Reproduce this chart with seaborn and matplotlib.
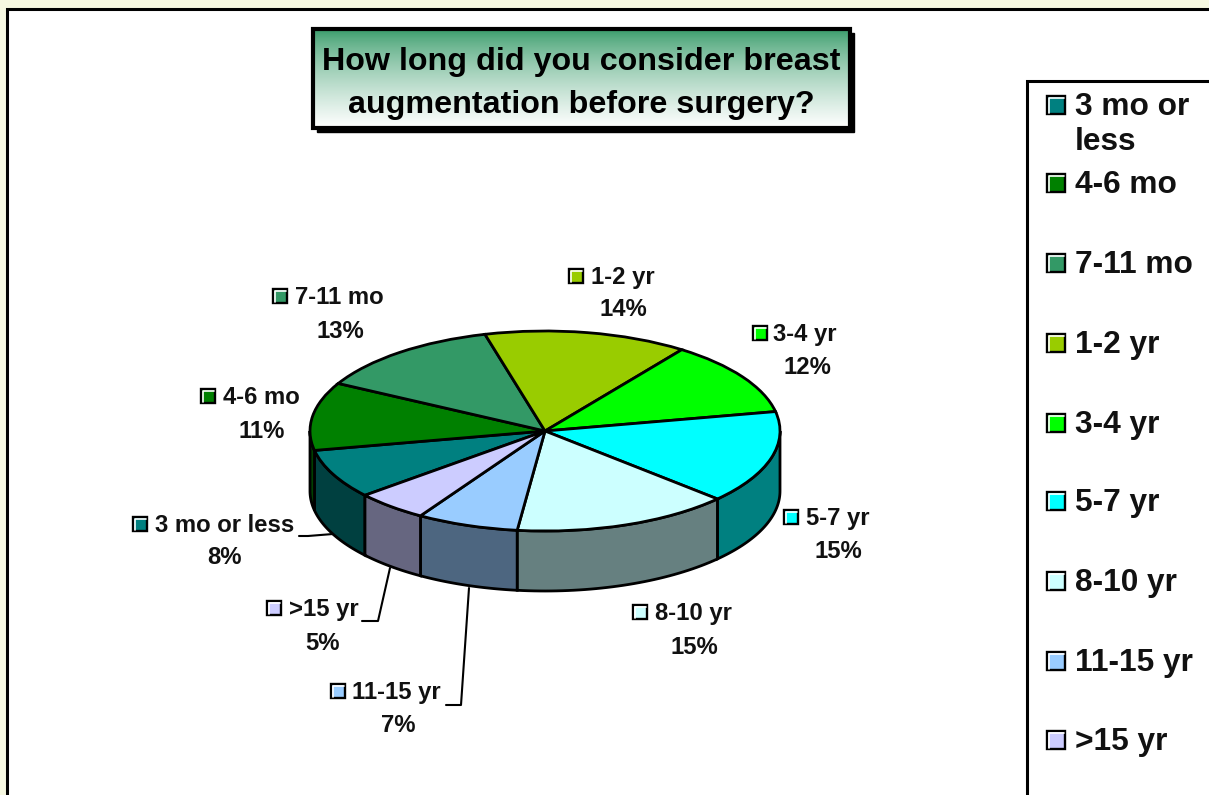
import numpy as np
import matplotlib
matplotlib.use("Agg")
import matplotlib.pyplot as plt
from matplotlib.patches import Rectangle
import seaborn as sns

# Data
categories = ["3 mo or less", "4-6 mo", "7-11 mo", "1-2 yr", "3-4 yr", "5-7 yr", "8-10 yr", "11-15 yr", ">15 yr"]
percent = [8, 11, 13, 14, 12, 15, 15, 7, 5]
top_colors = ["#008080", "#008000", "#339966", "#99CC00", "#00FF00", "#00FFFF", "#CCFFFF", "#99CCFF", "#CCCCFF"]
wall_colors = ["#004040", "#004000", "#1A4D33", "#4D6600", "#008000", "#008080", "#668080", "#4D6680", "#666680"]
legend_labels = ["3 mo or\nless", "4-6 mo", "7-11 mo", "1-2 yr", "3-4 yr", "5-7 yr", "8-10 yr", "11-15 yr", ">15 yr"]
title_lines = ["How long did you consider breast", "augmentation before surgery?"]

# Style
sns.set_theme(style="white")
plt.rcParams["font.family"] = ["Liberation Sans", "DejaVu Sans"]
plt.rcParams["font.weight"] = "bold"
palette = sns.color_palette(top_colors)

W, H = 1209, 795
CX, CY, RX, RY, DEPTH = 545, 431, 235, 100, 60
START = 220

fig = plt.figure(figsize=(W / 100, H / 100), dpi=100, facecolor="#F6F8E1")

# Pie axes: one unit is RX pixels across and RY pixels down
ax = fig.add_axes([0, 0, 1, 1], zorder=2)
ax.patch.set_alpha(0)

# Side walls, only the front half of the pie shows them
edges = START - np.cumsum([0] + percent) * 3.6
for i in range(len(percent)):
    for lo, hi in [(180, 360), (-180, 0)]:
        a0 = min(edges[i], hi)
        a1 = max(edges[i + 1], lo)
        if a0 <= a1:
            continue
        t = np.radians(np.linspace(a0, a1, 40))
        xs = np.cos(t)
        ys = np.sin(t)
        drop = DEPTH / RY
        ax.fill(np.r_[xs, xs[::-1]], np.r_[ys, ys[::-1] - drop], facecolor=wall_colors[i],
                edgecolor="black", linewidth=2, zorder=1)

wedges, _ = ax.pie(percent, colors=palette, startangle=START, counterclock=False, radius=1,
                   wedgeprops={"edgecolor": "black", "linewidth": 2, "zorder": 2})
ax.set_aspect("auto")
ax.set_xlim((0 - CX) / RX, (W - CX) / RX)
ax.set_ylim((CY - H) / RY, CY / RY)
ax.axis("off")

# Everything else in pixel coordinates
bg = fig.add_axes([0, 0, 1, 1], zorder=1)
bg.set_xlim(0, W)
bg.set_ylim(H, 0)
bg.axis("off")
bg.add_patch(Rectangle((7, 9), W, H, facecolor="white", edgecolor="black", linewidth=2.2))

over = fig.add_axes([0, 0, 1, 1], zorder=3)
over.set_xlim(0, W)
over.set_ylim(H, 0)
over.axis("off")
over.patch.set_alpha(0)

# Title box with the green fade and hard shadow
over.add_patch(Rectangle((317, 33), 537, 99, facecolor="black", edgecolor="black", linewidth=1))
grad = np.linspace(0, 1, 100).reshape(-1, 1, 1) ** 0.7
c0 = np.array([0x33, 0x99, 0x66]) / 255
grad_img = c0 * (1 - grad) + grad
over.imshow(grad_img, extent=(313, 850, 128, 29), aspect="auto", zorder=2)
over.set_xlim(0, W)
over.set_ylim(H, 0)
over.add_patch(Rectangle((313, 29), 537, 99, fill=False, edgecolor="black", linewidth=3, zorder=3))
for line, y in zip(title_lines, [62, 105]):
    over.text(581, y, line, fontsize=23.2, ha="center", va="center", color="black", zorder=4)


def swatch(x, y, size, color):
    over.add_patch(Rectangle((x - size / 2, y - size / 2), size, size, facecolor=color,
                             edgecolor="black", linewidth=1.7, zorder=4))
    over.plot([x - size / 2 + 1.8, x - size / 2 + 1.8, x + size / 2 - 1.5],
              [y + size / 2 - 1.5, y - size / 2 + 1.8, y - size / 2 + 1.8], color="white", lw=1.2, zorder=5)


# Slice labels: swatch centre, label left edge, label y, percent centre, percent y
label_spots = [
    (140, 524, 155, 225, 557),
    (208, 396, 223, 262, 431),
    (280, 296, 295, 340, 332),
    (576, 276, 591, 623, 310),
    (760, 333, 773, 807, 368),
    (791, 517, 806, 838, 552),
    (640, 612, 655, 694, 647),
    (338, 691, 352, 398, 726),
    (274, 608, 289, 323, 643),
]
for name, val, col, (sx, sy, tx, px, py) in zip(categories, percent, top_colors, label_spots):
    swatch(sx, sy, 14, col)
    over.text(tx, sy + 1.5, name, fontsize=17.2, ha="left", va="center", color="#111111")
    over.text(px, py, f"{val}%", fontsize=17.2, ha="center", va="center", color="#111111")

# Leader lines
over.plot([299, 308, 333], [536, 536, 534], color="black", lw=1.5)
over.plot([362, 378, 390], [621, 621, 568], color="black", lw=1.5)
over.plot([446, 461, 469], [705, 705, 588], color="black", lw=1.5)

# Legend box runs off the right and bottom of the picture
over.add_patch(Rectangle((1027, 81), 300, 800, facecolor="white", edgecolor="black", linewidth=2.2, zorder=1))
legend_y = [105, 183, 263, 343, 423, 501, 581, 661, 740]
for lab, col, y in zip(legend_labels, top_colors, legend_y):
    swatch(1056, y, 18, col)
    parts = lab.split("\n")
    for j, part in enumerate(parts):
        over.text(1075, y + 2 + j * 35, part, fontsize=22.8, ha="left", va="center", color="#111111", zorder=4)

fig.savefig("out.png", dpi=100, facecolor=fig.get_facecolor())
